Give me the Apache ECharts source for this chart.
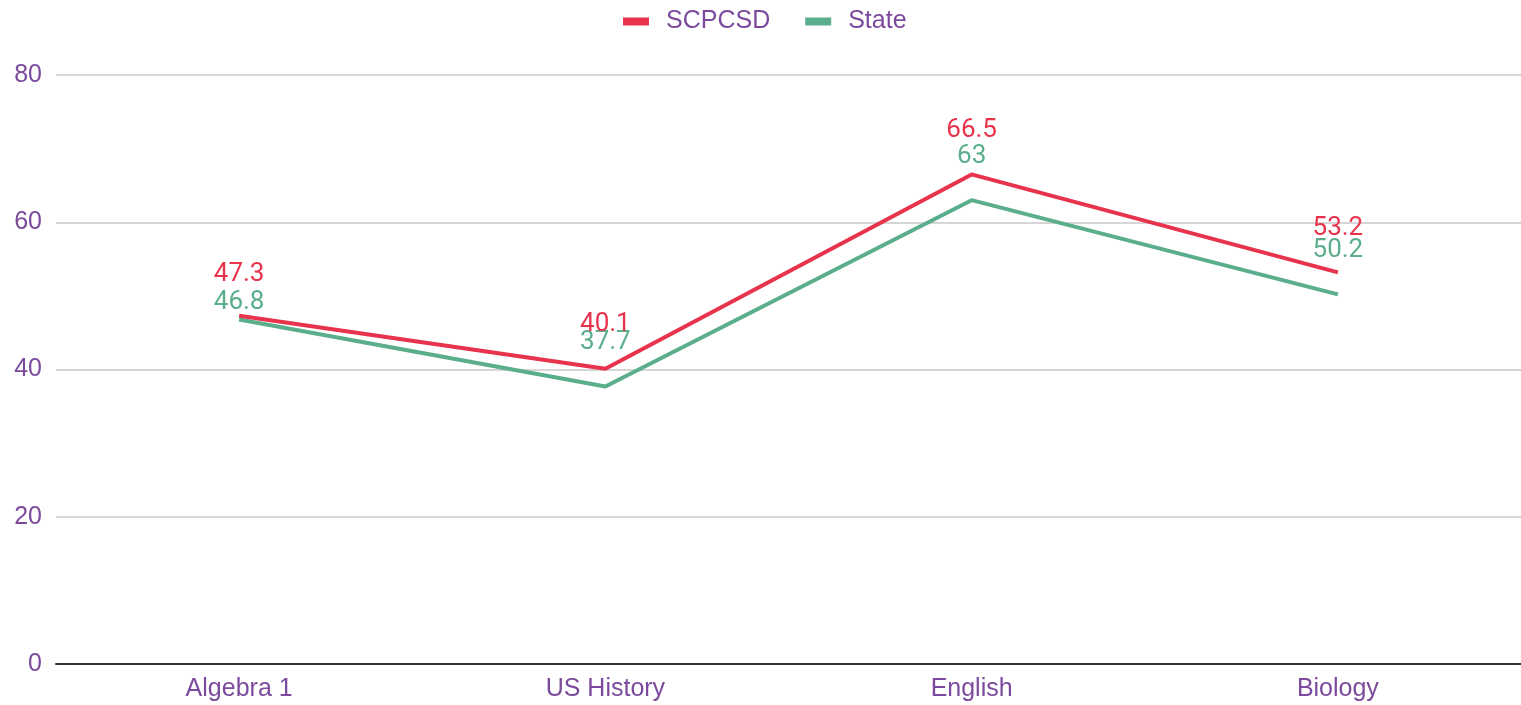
<!DOCTYPE html>
<html><head><meta charset="utf-8">
<script src="https://cdn.jsdelivr.net/npm/echarts@6/dist/echarts.min.js"></script>
<style>html,body{margin:0;padding:0;background:#fff}#c{width:1521px;height:705px}</style>
</head><body><div id="c"></div>
<script>
const categories = ["Algebra 1", "US History", "English", "Biology"];
const scpcsd = [47.3, 40.1, 66.5, 53.2];
const state = [46.8, 37.7, 63, 50.2];
const yTicks = [0, 20, 40, 60, 80];

const RED = '#E8334D', GREEN = '#5BAE8C', PURPLE = '#7B4A9C';
const chart = echarts.init(document.getElementById('c'));
function mkData(vals, distances) {
  return vals.map((v, i) => ({ value: v, label: { distance: distances[i] } }));
}
chart.setOption({
  animation: false,
  legend: {
    top: 4, left: 618, itemWidth: 26, itemHeight: 8, itemGap: 35,
    icon: 'rect',
    textStyle: { color: PURPLE, fontSize: 25, fontFamily: 'Liberation Sans, Arial', padding: [0, 0, 0, 12] },
    data: ['SCPCSD', 'State']
  },
  grid: { left: 56, right: -8, top: 75, bottom: 41, containLabel: false },
  xAxis: {
    type: 'category', data: categories, boundaryGap: true,
    axisLine: { lineStyle: { color: '#333', width: 2 } },
    axisTick: { show: false },
    axisLabel: { color: PURPLE, fontSize: 25, margin: 13, fontFamily: 'Liberation Sans, Arial' }
  },
  yAxis: {
    type: 'value', min: yTicks[0], max: yTicks[yTicks.length - 1], interval: 20,
    axisLine: { show: false }, axisTick: { show: false },
    splitLine: { lineStyle: { color: '#c8c8c8', width: 1.5 } },
    axisLabel: { color: PURPLE, fontSize: 25, margin: 14, fontFamily: 'Liberation Sans, Arial' }
  },
  series: [
    {
      name: 'SCPCSD', type: 'line', data: mkData(scpcsd, [28, 31, 31, 31]),
      color: RED, symbol: 'circle', symbolSize: 0.1, showSymbol: true,
      lineStyle: { width: 4, color: RED }, z: 3,
      label: { show: true, position: 'top', color: RED, fontSize: 26, fontFamily: 'Roboto' }
    },
    {
      name: 'State', type: 'line', data: mkData(state, [4, 31, 31, 31]),
      color: GREEN, symbol: 'circle', symbolSize: 0.1, showSymbol: true,
      lineStyle: { width: 4, color: GREEN }, z: 2,
      label: { show: true, position: 'top', color: GREEN, fontSize: 26, fontFamily: 'Roboto' }
    }
  ]
});
</script></body></html>
